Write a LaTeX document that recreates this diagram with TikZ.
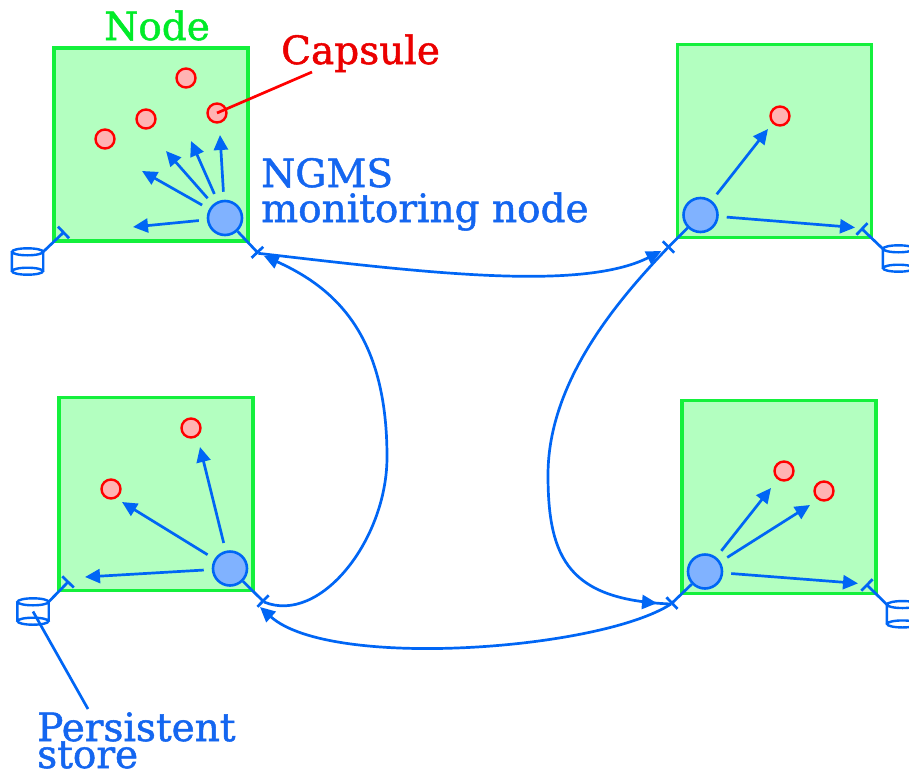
\documentclass[tikz,border=0pt]{standalone}
\usepackage{fontspec}
\newfontfamily\dvs[FakeBold=1.3]{DejaVu Serif}
\usetikzlibrary{arrows.meta,decorations.markings}
\definecolor{boxfill}{RGB}{179,255,192}
\definecolor{boxline}{RGB}{20,240,60}
\definecolor{netblue}{RGB}{0,102,245}
\definecolor{monfill}{RGB}{128,178,255}
\definecolor{capline}{RGB}{255,0,0}
\definecolor{capfill}{RGB}{255,179,179}
\definecolor{nodegreen}{RGB}{0,235,40}
\definecolor{capred}{RGB}{235,0,0}
\definecolor{txtblue}{RGB}{20,102,240}
\newcommand\lblfont{\dvs\fontsize{39}{27}\selectfont}
\newcommand\mystore[1]{%
  \draw[storeline] (#1.north) ellipse [x radius=15.5pt, y radius=3.5pt]
     (#1.south) ellipse [x radius=15.5pt, y radius=3.5pt]
     (#1.north west) -- (#1.south west)
     (#1.north east) -- (#1.south east);}
\begin{document}
\begin{tikzpicture}[x=1pt,y=-1pt,
  nodebox/.style={draw=boxline, fill=boxfill, line width=3.2pt, inner sep=0, minimum width=194pt, minimum height=193pt},
  monitor/.style={circle, draw=netblue, fill=monfill, line width=2.6pt, minimum size=34pt, inner sep=0},
  capsule/.style={circle, draw=capline, fill=capfill, line width=2.4pt, minimum size=19pt, inner sep=0},
  storebox/.style={inner sep=0, minimum width=31pt, minimum height=19pt},
  storeline/.style={draw=netblue, line width=2.4pt},
  conn/.style={draw=netblue, line width=2.7pt},
  arr/.style={conn, -{Triangle[length=15pt,width=14pt]}},
  inarr/.style={arr, shorten <=8pt},
  port/.style={conn, -{Bar[width=16pt]}},
  lbl/.style={anchor=base west, inner sep=0, font=\lblfont},
]
\useasboundingbox (0,0) rectangle (909,771);
\fill[white] (0,0) rectangle (909,771);

% node boxes
\node[nodebox] (bTL) at (151,144.5) {};
\node[nodebox] (bTR) at (774.5,141) {};
\node[nodebox] (bBL) at (156,494) {};
\node[nodebox] (bBR) at (779,497) {};

% capsules
\node[capsule] (cap1) at (186,78) {};
\node[capsule] (cap2) at (146,119) {};
\node[capsule] (cap3) at (105,139) {};
\node[capsule] (cap4) at (217,113) {};
\node[capsule] (cap5) at (780,116) {};
\node[capsule] (cap6) at (191,428) {};
\node[capsule] (cap7) at (111,489) {};
\node[capsule] (cap8) at (784,471) {};
\node[capsule] (cap9) at (824,491) {};

% monitoring nodes
\node[monitor] (mTL) at (225,218) {};
\node[monitor] (mTR) at (700.5,215) {};
\node[monitor] (mBL) at (230,568.5) {};
\node[monitor] (mBR) at (705,571.5) {};

% ports and store bars
\coordinate (pTL) at (258.3,253.3);
\coordinate (pTR) at (667.5,248);
\coordinate (pBL) at (264,602);
\coordinate (pBR) at (671,604);
\coordinate (qBL) at (260,607);
\coordinate (sTL) at (64.5,231.5);
\coordinate (sTR) at (861,228);
\coordinate (sBL) at (69,581);
\coordinate (sBR) at (866,584);

% arrow targets
\coordinate (t1) at (133,227);
\coordinate (t2) at (142,171);
\coordinate (t3) at (166,151);
\coordinate (t4) at (191,141);
\coordinate (t5) at (220,135);
\coordinate (u1) at (768,129);
\coordinate (v1) at (85,577);
\coordinate (v2) at (122,502);
\coordinate (v3) at (200,447);
\coordinate (w1) at (771,488);
\coordinate (w2) at (810,505);

% internal arrows
\foreach \t in {t1,t2,t3,t4,t5} \draw[inarr] (mTL) -- (\t);
\draw[inarr] (mTR) -- (u1);
\draw[inarr, shorten >=6pt] (mTR) -- (sTR);
\foreach \t in {v1,v2,v3} \draw[inarr] (mBL) -- (\t);
\draw[inarr] (mBR) -- (w1);
\draw[inarr] (mBR) -- (w2);
\draw[inarr, shorten >=8pt] (mBR) -- (sBR);

% port stubs
\draw[port] (mTL) -- (pTL);
\draw[port] (mTR) -- (pTR);
\draw[port] (mBL) -- (pBL);
\draw[port] (mBR) -- (pBR);

% stores
\node[storebox] (cTL) at (27.5,261.5) {};
\node[storebox] (cTR) at (898.5,258.5) {};
\node[storebox] (cBL) at (33,611.5) {};
\node[storebox] (cBR) at (902.5,614.25) {};
\mystore{cTL}\mystore{cTR}\mystore{cBL}\mystore{cBR}
\draw[port] (cTL.north east) -- (sTL);
\draw[port] (cTR.north west) -- (sTR);
\draw[port] (cBL.north east) -- (sBL);
\draw[port] (cBR.north west) -- (sBR);

% connections between monitoring nodes
\draw[arr, shorten >=7pt] (pTL) .. controls (420,272) and (580,292) .. (pTR);
\draw[conn, postaction={decorate}, decoration={markings, mark=at position -14pt with {\arrow{Triangle[length=15pt,width=14pt]}}}]
  (pTR) .. controls (620,298) and (548,380) .. (548,475)
        .. controls (548,560) and (570,600) .. (pBR);
\draw[arr, shorten >=6pt] (pBL) .. controls (320,625) and (387,540) .. (387,457)
        .. controls (387,340) and (340,290) .. (pTL);
\draw[arr] (pBR) .. controls (600,650) and (330,670) .. (qBL);

% labels
\node[lbl, text=nodegreen] (lNode) at (104,40) {Node};
\node[lbl, text=capred] (lCap) at (281,64) {Capsule};
\node[lbl, text=txtblue] (lNGMS) at (261,187) {NGMS};
\node[lbl, text=txtblue] (lMon) at (261,222) {monitoring node};
\node[lbl, text=txtblue] (lPers) at (37,741) {Persistent};
\node[lbl, text=txtblue] (lStore) at (37,768) {store};

% leaders
\coordinate (capEnd) at (312,72);
\coordinate (persEnd) at (88,709);
\draw[draw=capline, line width=2.7pt] (cap4.center) -- (capEnd);
\draw[conn] (cBL.center) -- (persEnd);
\end{tikzpicture}
\end{document}
